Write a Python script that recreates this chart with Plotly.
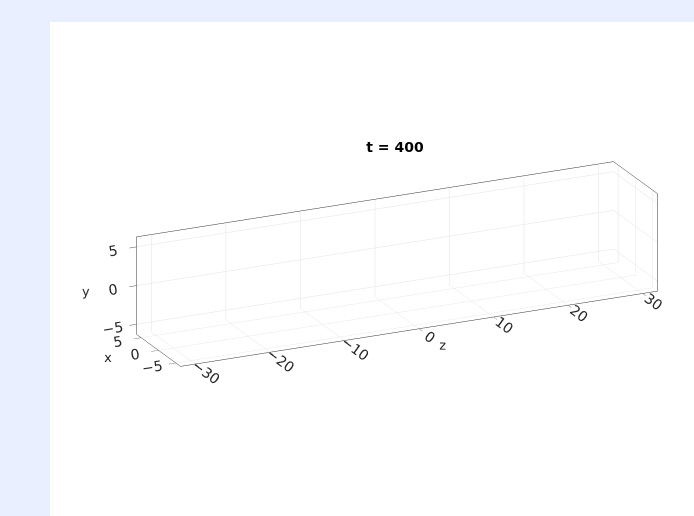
import plotly.graph_objects as go

# Data (empty box – the frame at t = 400 has no plotted objects)
title_text = "t = 400"
x_range = [-6.35, 6.35]
y_range = [-6.3, 6.3]
z_range = [-32, 32]
x_ticks = [-5, 0, 5]
y_ticks = [-5, 0, 5]
z_ticks = [-30, -20, -10, 0, 10, 20, 30]


def fmt(v):
    return ("\u2212" + str(abs(v))) if v < 0 else str(v)


VW, H = 694, 516          # visible window
W = 794                   # canvas a bit wider so the scene can be centred on the box; overflow hidden
font = dict(family="DejaVu Sans", size=13, color="#262626")

fig = go.Figure()
# invisible anchor so the (otherwise empty) scene gets rendered
fig.add_trace(go.Scatter3d(x=[0], y=[0], z=[0], mode="markers", marker=dict(size=1, opacity=0),
                           showlegend=False, hoverinfo="skip"))


def ax(title, rng, ticks):
    return dict(
        title=dict(text=title, font=font),
        range=rng,
        tickvals=ticks,
        ticktext=[fmt(t) for t in ticks],
        tickfont=font,
        showgrid=True,
        gridcolor="#e3e3e3",
        gridwidth=1,
        showline=True,
        linecolor="#333333",
        linewidth=1,
        mirror=True,
        showbackground=False,
        zeroline=False,
        ticks="outside",
        ticklen=8,
        tickcolor="#555555",
        showspikes=False,
    )


k = 0.45 / 12.7
asp = dict(x=(x_range[1] - x_range[0]) * k, y=(y_range[1] - y_range[0]) * k,
           z=(z_range[1] - z_range[0]) * k)
d = 2.0
eye = [-0.853 * d, 0.339 * d, -0.397 * d]

cx = 396.5 / W
fig.update_layout(
    width=W,
    height=H,
    margin=dict(l=0, r=0, t=0, b=0),
    paper_bgcolor="#E9EFFE",
    plot_bgcolor="#E9EFFE",
    shapes=[dict(type="rect", xref="paper", yref="paper", x0=50 / W, x1=1, y0=0, y1=1 - 22 / H,
                 fillcolor="white", line=dict(width=0), layer="below")],
    title=dict(text="<b>" + title_text + "</b>", x=395 / W, y=1 - 147 / H, xanchor="center", yanchor="middle",
               font=dict(family="DejaVu Sans", size=14, color="black")),
    scene=dict(
        domain=dict(x=[cx - 0.4987, cx + 0.4987], y=[0.4884 - 0.45, 0.4884 + 0.45]),
        bgcolor="rgba(0,0,0,0)",
        xaxis=ax("x", x_range, x_ticks),
        yaxis=ax("y", y_range, y_ticks),
        zaxis=ax("z", z_range, z_ticks),
        aspectmode="manual",
        aspectratio=asp,
        camera=dict(eye=dict(x=eye[0], y=eye[1], z=eye[2]), up=dict(x=0, y=1, z=0),
                    center=dict(x=0, y=0, z=0), projection=dict(type="orthographic")),
    ),
)

fig.write_html("out.html", config={"displayModeBar": False},
               post_script="document.body.style.margin='0';document.body.style.overflow='hidden';"
                           "document.documentElement.style.overflow='hidden';")
